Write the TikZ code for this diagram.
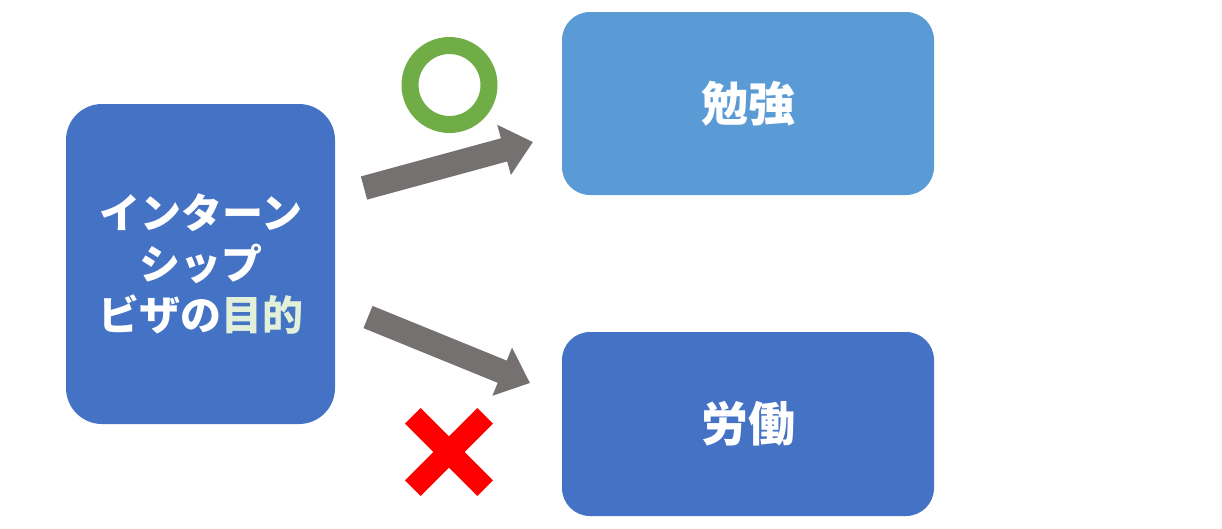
\documentclass[tikz,border=0pt]{standalone}
\usepackage{fontspec}
\newfontfamily\jp{Noto Sans CJK JP}
\usetikzlibrary{arrows.meta}
\definecolor{dblue}{HTML}{4472C4}
\definecolor{lblue}{HTML}{5B9BD5}
\definecolor{agray}{HTML}{767171}
\definecolor{okgreen}{HTML}{70AD47}
\definecolor{ltgreen}{HTML}{E2F0D9}
\tikzset{
  box/.style={fill=#1, draw=none, text=white, font=\jp\bfseries\fontsize{47}{56}\selectfont, align=center, inner sep=0pt},
  blockarrow/.style={draw=agray, line width=24pt, -{Triangle[length=30pt,width=50pt]}},
}
\begin{document}
\begin{tikzpicture}[x=1pt,y=-1pt]
\useasboundingbox (0,0) rectangle (1222,528);
\node[box=dblue, rounded corners=36pt, minimum width=269pt, minimum height=320pt, font=\jp\bfseries\fontsize{41}{51}\selectfont] (purpose) at (200.5,264) {インターン\\シップ\\ビザの\textcolor{ltgreen}{目的}};
\node[box=lblue, rounded corners=28pt, minimum width=372pt, minimum height=183pt] (study) at (748,103.5) {勉強};
\node[box=dblue, rounded corners=28pt, minimum width=372pt, minimum height=184pt] (work) at (748,424) {労働};
\coordinate (a1s) at (364,188);
\coordinate (a1e) at (533,142);
\coordinate (a2s) at (368,317);
\coordinate (a2e) at (530,383);
\draw[blockarrow] (a1s) -- (a1e);
\draw[blockarrow] (a2s) -- (a2e);
\node[draw=okgreen, line width=17pt, circle, minimum size=79pt, inner sep=0pt] (ok) at (449.5,85) {};
\coordinate (ng) at (449,452);
\draw[red, line width=22pt] ([shift={(-36.2,-36.2)}]ng) -- ([shift={(36.2,36.2)}]ng);
\draw[red, line width=22pt] ([shift={(-36.2,36.2)}]ng) -- ([shift={(36.2,-36.2)}]ng);
\end{tikzpicture}
\end{document}
